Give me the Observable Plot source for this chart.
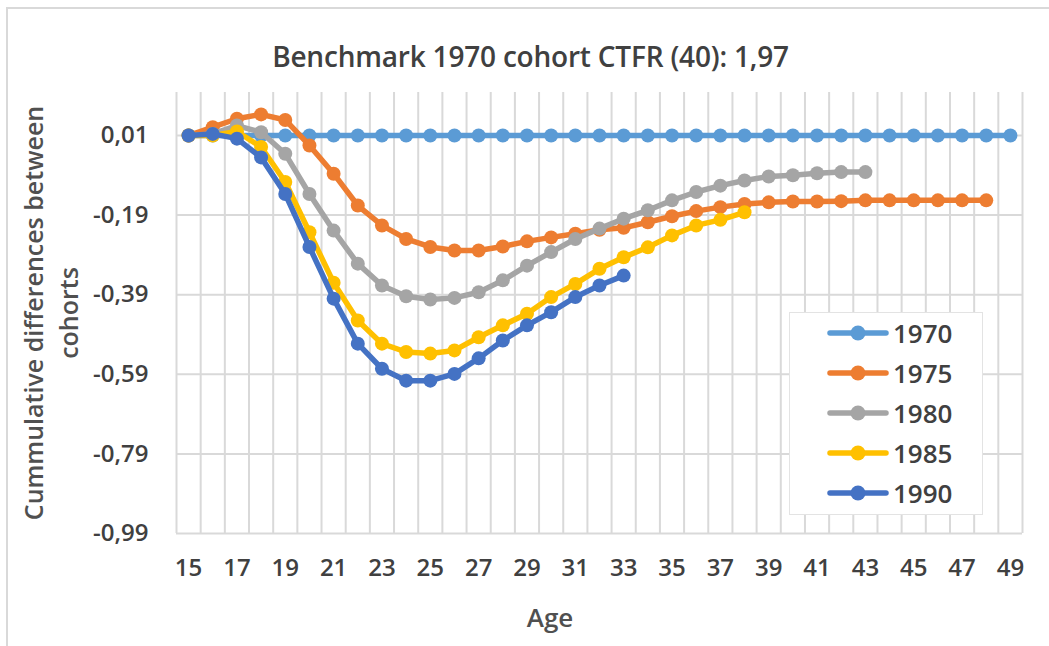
<!DOCTYPE html>
<html>
<head>
<meta charset="utf-8">
<script src="https://cdn.jsdelivr.net/npm/d3@7"></script>
<script src="https://cdn.jsdelivr.net/npm/@observablehq/plot@0.6"></script>
<style>
  html, body { margin: 0; padding: 0; background: #fff; overflow: hidden; }
  #wrap { position: relative; width: 1049px; height: 646px; overflow: hidden; font-family: "Open Sans", sans-serif; }
  #border { position: absolute; left: 6px; top: 7px; width: 1200px; height: 800px; border: 2px solid #d9d9d9; box-sizing: border-box; }
  #chart { position: absolute; left: 0; top: 0; }
  .title { position: absolute; left: 0; width: 1061px; top: 56px; transform: translateY(-50%); text-align: center; font-size: 28px; font-weight: 600; color: #404040; letter-spacing: -0.2px; }
  .ylab { position: absolute; left: 51px; top: 313px; transform: translate(-50%, -50%) rotate(-90deg); white-space: nowrap; text-align: center; font-size: 25px; font-weight: 600; color: #505050; line-height: 35px; }
  .xlab { position: absolute; left: 550px; top: 617px; transform: translate(-50%, -50%); font-size: 26px; font-weight: 600; color: #505050; }
  #legend { position: absolute; left: 789px; top: 312px; width: 194px; height: 203px; background: #fff; border: 1px solid #e3e3e3; box-sizing: border-box; padding-top: 0px; }
  .lrow { display: flex; align-items: center; height: 40px; line-height: 30px; padding-left: 37px; }
  .lrow svg { display: block; }
  .lrow span { font-size: 26px; font-weight: 600; color: #404040; margin-left: 4px; }
</style>
</head>
<body>
<div id="wrap">
  <div id="border"></div>
  <div id="chart"></div>
  <div class="title">Benchmark 1970 cohort CTFR (40): 1,97</div>
  <div class="ylab">Cummulative differences between<br>cohorts</div>
  <div class="xlab">Age</div>
  <div id="legend"></div>
</div>
<script>
// ---- data ----
const ages = [15,16,17,18,19,20,21,22,23,24,25,26,27,28,29,30,31,32,33,34,35,36,37,38,39,40,41,42,43,44,45,46,47,48,49];
const xTickLabels = [15,17,19,21,23,25,27,29,31,33,35,37,39,41,43,45,47,49];
const yTickValues = [0.01,-0.19,-0.39,-0.59,-0.79,-0.99];
const cohorts = ["1970","1975","1980","1985","1990"];
const colors = ["#5B9BD5","#ED7D31","#A5A5A5","#FFC000","#4472C4"];

const s1970 = [0.01,0.01,0.01,0.01,0.01,0.01,0.01,0.01,0.01,0.01,0.01,0.01,0.01,0.01,0.01,0.01,0.01,0.01,0.01,0.01,0.01,0.01,0.01,0.01,0.01,0.01,0.01,0.01,0.01,0.01,0.01,0.01,0.01,0.01,0.01];
const s1975 = [0.01,0.031,0.052,0.063,0.049,-0.015,-0.086,-0.166,-0.216,-0.25,-0.27,-0.279,-0.279,-0.269,-0.256,-0.246,-0.237,-0.227,-0.222,-0.208,-0.193,-0.18,-0.17,-0.162,-0.158,-0.156,-0.156,-0.155,-0.153,-0.153,-0.153,-0.153,-0.153,-0.153];
const s1980 = [0.01,0.014,0.035,0.018,-0.036,-0.137,-0.229,-0.312,-0.367,-0.394,-0.402,-0.398,-0.384,-0.354,-0.317,-0.283,-0.25,-0.224,-0.199,-0.178,-0.153,-0.132,-0.116,-0.103,-0.093,-0.09,-0.085,-0.082,-0.082];
const s1985 = [0.01,0.01,0.02,-0.019,-0.107,-0.233,-0.36,-0.455,-0.513,-0.534,-0.538,-0.53,-0.497,-0.467,-0.438,-0.396,-0.363,-0.325,-0.296,-0.271,-0.241,-0.216,-0.202,-0.183];
const s1990 = [0.01,0.014,0.002,-0.045,-0.137,-0.27,-0.40,-0.513,-0.576,-0.606,-0.606,-0.589,-0.55,-0.505,-0.467,-0.434,-0.396,-0.367,-0.342];

const seriesValues = [s1970, s1975, s1980, s1985, s1990];
const rows = [];
seriesValues.forEach((vals, i) => vals.forEach((v, j) => rows.push({cohort: cohorts[i], age: ages[j], value: v})));

const gridX = ages.map(a => a - 0.5).concat([ages[ages.length - 1] + 0.5]);
const fmt = v => d3.format(".2f")(v).replace("−", "-").replace(".", ",");

const seriesMarks = [];
cohorts.forEach((c, i) => {
  const d = rows.filter(r => r.cohort === c);
  seriesMarks.push(Plot.line(d, {x: "age", y: "value", stroke: colors[i], strokeWidth: 5.5, strokeLinejoin: "round", strokeLinecap: "round"}));
  seriesMarks.push(Plot.dot(d, {x: "age", y: "value", fill: colors[i], r: 7}));
});

const chart = Plot.plot({
  width: 1049,
  height: 646,
  marginLeft: 176,
  marginRight: 27,
  marginTop: 92,
  marginBottom: 113,
  x: {type: "linear", domain: [gridX[0], gridX[gridX.length - 1]]},
  y: {domain: [-0.99, 0.118]},
  style: {fontFamily: "Open Sans, sans-serif", background: "transparent"},
  marks: [
    Plot.ruleX(gridX, {stroke: "#d9d9d9", strokeWidth: 2}),
    Plot.ruleY(yTickValues, {stroke: "#d9d9d9", strokeWidth: 2}),
    ...seriesMarks,
    Plot.axisX(xTickLabels, {tickSize: 0, tickPadding: 25, fontSize: 24, fontWeight: 600, fill: "#404040", label: null}),
    Plot.axisY(yTickValues, {tickSize: 0, tickPadding: 28, fontSize: 24, fontWeight: 600, fill: "#404040", tickFormat: fmt, label: null})
  ]
});
document.getElementById("chart").appendChild(chart);

// legend
const legend = document.getElementById("legend");
cohorts.forEach((c, i) => {
  const row = document.createElement("div");
  row.className = "lrow";
  row.innerHTML = `<svg width="62" height="16"><line x1="3" y1="8" x2="59" y2="8" stroke="${colors[i]}" stroke-width="5.5" stroke-linecap="round"/><circle cx="31" cy="8" r="7.5" fill="${colors[i]}"/></svg><span>${c}</span>`;
  legend.appendChild(row);
});
</script>
</body>
</html>
